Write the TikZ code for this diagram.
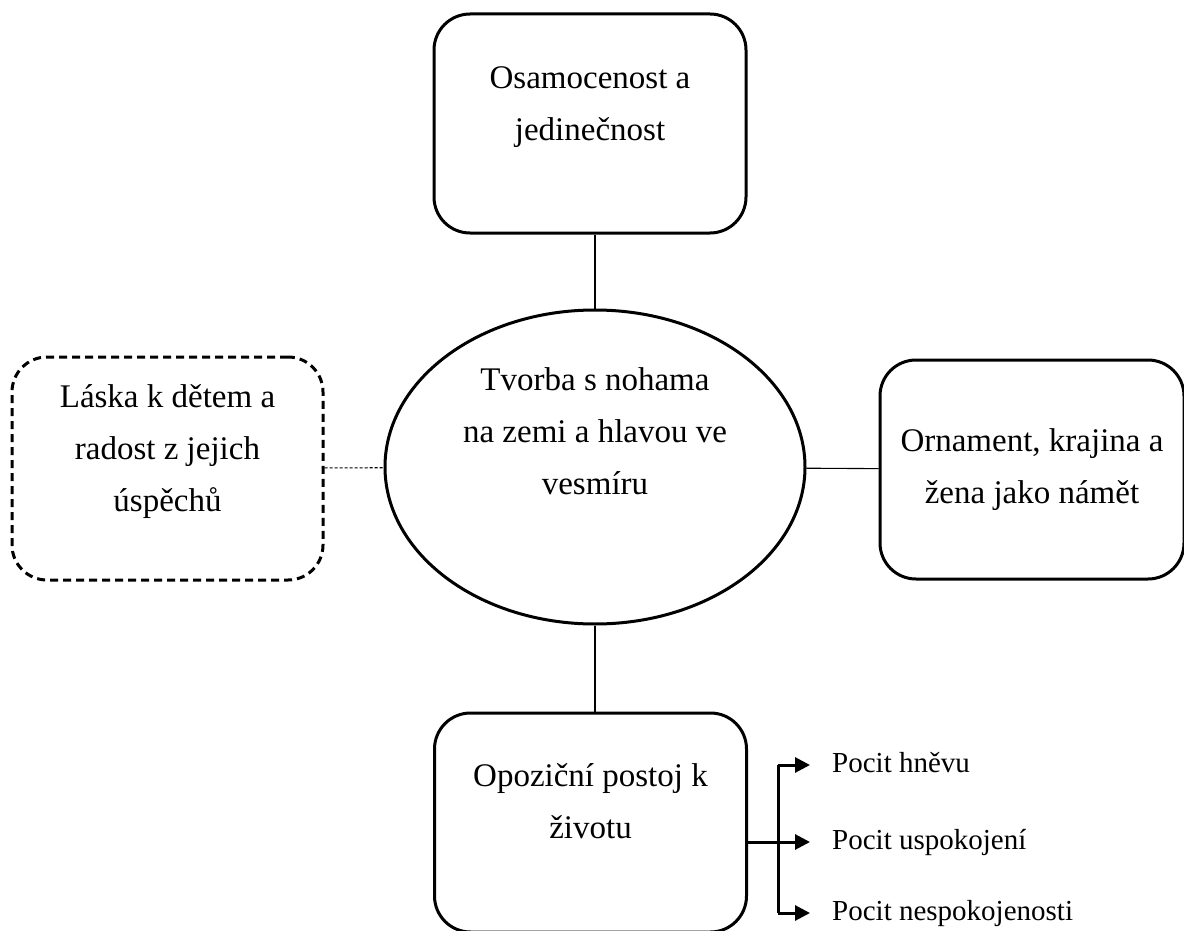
\documentclass[tikz,border=0pt]{standalone}
\usepackage{fontspec}
\setmainfont{Liberation Serif}
\usetikzlibrary{shapes.geometric, arrows.meta}

\begin{document}
\begin{tikzpicture}[> = {Triangle[length = 15pt, width = 15pt]}, x = 1pt, y = -1pt,
	topic/.style = {draw, line width = 3pt, rounded corners = 36pt, minimum width = 312pt, minimum height = 219pt, align = center, font = \fontsize{33}{52}\selectfont},
	feeling/.style = {anchor = west, inner xsep = 22pt, text height = 21pt, text depth = 6pt, font = \fontsize{29}{34}\selectfont},
	link/.style = {line width = 1.1pt},
	branch/.style = {line width = 3pt}]

	\useasboundingbox (0, 0) rectangle (1184, 931);

	% Central theme

	\node [draw, ellipse, line width = 3pt, minimum width = 420pt, minimum height = 314pt, align = center, font = \fontsize{33}{52}\selectfont, text depth = 72pt] (tvorba) at (595, 467) {Tvorba s nohama\\na zemi a hlavou ve\\vesmíru};

	% Surrounding topics

	\node [topic, text depth = 39pt] (osamocenost) at (590, 123.5) {Osamocenost a\\jedinečnost};
	\node [topic, dash pattern = on 8pt off 5pt, rounded corners = 35pt, minimum width = 311pt, minimum height = 223pt, text depth = 41pt] (laska) at (167.5, 468.5) {Láska k dětem a\\radost z jejich\\úspěchů};
	\node [topic, minimum width = 304pt] (ornament) at (1032, 469.5) {Ornament, krajina a\\žena jako námět};
	\node [topic, text depth = 42pt] (opozice) at (590.5, 822.5) {Opoziční postoj k\\životu};

	% Links to the centre

	\draw [link] (tvorba.north) -- (tvorba.north |- osamocenost.south);
	\draw [link] (tvorba.south) -- (tvorba.south |- opozice.north);
	\draw [link, dash pattern = on 3pt off 2pt] (laska) -- (tvorba);
	\draw [link] (tvorba) -- (ornament);

	% Feelings

	\node [feeling] (hnev) at (810, 765) {Pocit hněvu};
	\node [feeling] (uspokojeni) at (810, 842) {Pocit uspokojení};
	\node [feeling] (nespokojenost) at (810, 913) {Pocit nespokojenosti};

	\coordinate (rozcesti) at (778, 842);

	\draw [branch] (opozice.east |- rozcesti) -- (rozcesti);
	\draw [branch] (rozcesti |- hnev) -- (rozcesti |- nespokojenost);
	\foreach \f in {hnev, uspokojeni, nespokojenost}
		\draw [branch, ->] (rozcesti |- \f) -- (\f.west);

\end{tikzpicture}
\end{document}
